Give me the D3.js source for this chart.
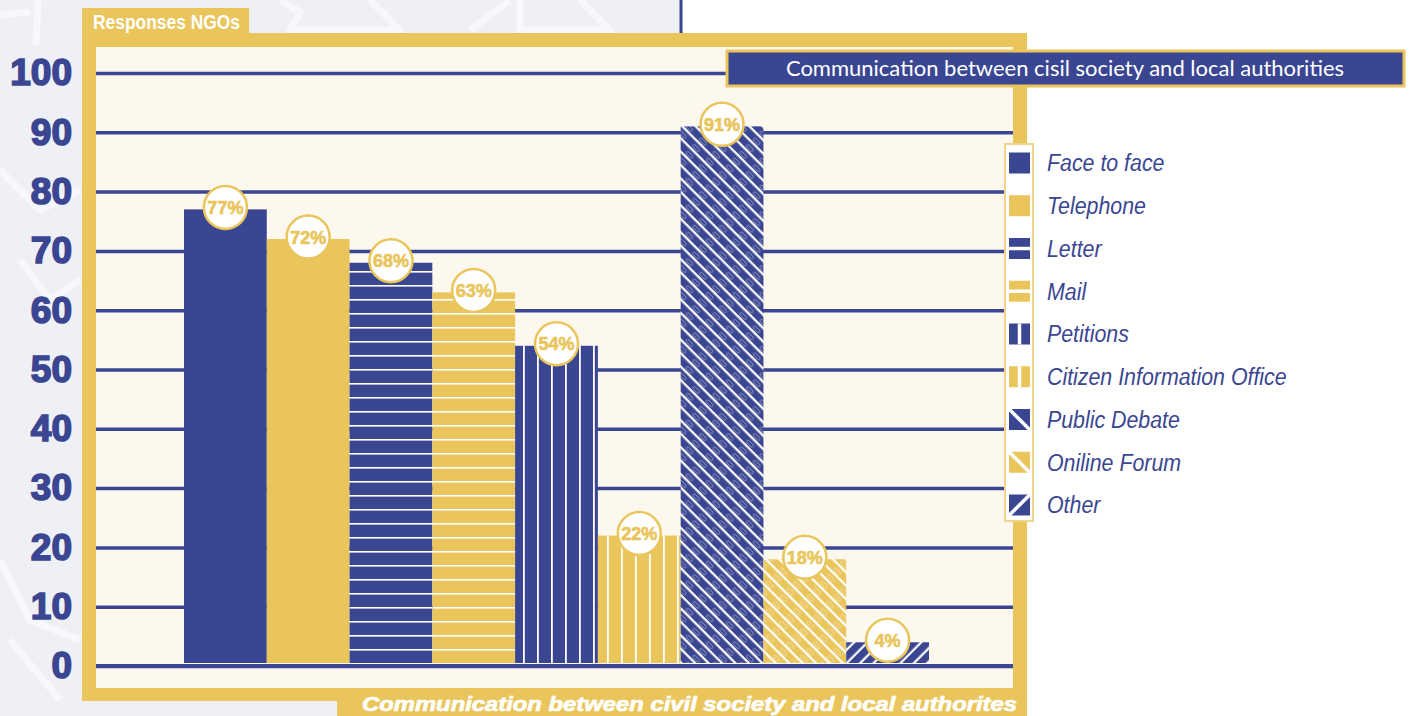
<!DOCTYPE html>
<html>
<head>
<meta charset="utf-8">
<script src="https://cdn.jsdelivr.net/npm/d3@7"></script>
<style>
  body { margin: 0; background: #fff; }
  svg { display: block; }
</style>
</head>
<body>
<script>
const categories = ["Face to face", "Telephone", "Letter", "Mail", "Petitions",
  "Citizen Information Office", "Public Debate", "Oniline Forum", "Other"];
const values = [77, 72, 68, 63, 54, 22, 91, 18, 4];
const yTicks = [0, 10, 20, 30, 40, 50, 60, 70, 80, 90, 100];

const blue = "#3a4691";
const yellow = "#e9c55b";
const cream = "#fdf8ee";

// fill colour and hatch of each category
const barStyle = {
  "Face to face": {color: blue, hatch: "none"},
  "Telephone": {color: yellow, hatch: "none"},
  "Letter": {color: blue, hatch: "horiz"},
  "Mail": {color: yellow, hatch: "horiz"},
  "Petitions": {color: blue, hatch: "vert"},
  "Citizen Information Office": {color: yellow, hatch: "vert"},
  "Public Debate": {color: blue, hatch: "back"},
  "Oniline Forum": {color: yellow, hatch: "back"},
  "Other": {color: blue, hatch: "fwd"}
};

const width = 1413, height = 716;
const svg = d3.create("svg").attr("width", width).attr("height", height);

// page background with faint decoration
svg.append("rect").attr("width", 683).attr("height", height).attr("fill", "#eef0f5");
const deco = svg.append("g").attr("fill", "none").attr("stroke", "#f7f8fb")
  .attr("stroke-width", 7).attr("stroke-linejoin", "round");
deco.append("path").attr("d", "M0,15 L30,12 M38,0 L36,45 M280,0 L300,12 L290,30 L400,30 L370,0");
deco.append("path").attr("d", "M470,30 L510,0 M520,0 L520,30 L610,30 L580,0");
deco.append("path").attr("d", "M0,170 L40,210 L80,190 M20,260 L50,300 L80,280 M0,560 L30,620 L80,640 M10,640 L60,700");
svg.append("line").attr("x1", 681).attr("x2", 681).attr("y1", 0).attr("y2", 34)
  .attr("stroke", blue).attr("stroke-width", 3);

// hatch patterns
const defs = svg.append("defs");
function makePattern(id, color, hatch) {
  const p = defs.append("pattern").attr("id", id).attr("patternUnits", "userSpaceOnUse");
  if (hatch === "horiz") {
    p.attr("width", 10).attr("height", 14);
    p.append("rect").attr("width", 10).attr("height", 14).attr("fill", color);
    p.append("rect").attr("y", 5).attr("width", 10).attr("height", 1.6).attr("fill", "#fff");
  } else if (hatch === "vert") {
    p.attr("width", 14).attr("height", 10);
    p.append("rect").attr("width", 14).attr("height", 10).attr("fill", color);
    p.append("rect").attr("x", 5).attr("width", 1.8).attr("height", 10).attr("fill", "#fff");
  } else {
    p.attr("width", 9.5).attr("height", 19)
      .attr("patternTransform", hatch === "back" ? "rotate(-45)" : "rotate(45)");
    p.append("rect").attr("width", 9.5).attr("height", 19).attr("fill", color);
    p.append("rect").attr("x", 2.5).attr("width", 2.2).attr("height", 19).attr("fill", "#fff");
    if (hatch === "back") {
      p.append("rect").attr("x", 6).attr("y", 4).attr("width", 3).attr("height", 8).attr("rx", 1)
        .attr("fill", "none").attr("stroke", "#fff").attr("stroke-width", 0.6).attr("opacity", 0.6);
    }
  }
}
categories.forEach((c, i) => {
  const s = barStyle[c];
  if (s.hatch !== "none") makePattern("pat" + i, s.color, s.hatch);
});
const fillOf = (c, i) => barStyle[c].hatch === "none" ? barStyle[c].color : `url(#pat${i})`;

// frame
svg.append("rect").attr("x", 82).attr("y", 8).attr("width", 167).attr("height", 30).attr("fill", yellow);
svg.append("text").text("Responses NGOs")
  .attr("x", 93).attr("y", 29)
  .attr("textLength", 147).attr("lengthAdjust", "spacingAndGlyphs")
  .attr("font-family", "'Liberation Sans', sans-serif")
  .attr("font-weight", "bold").attr("font-size", 20).attr("fill", "#fff");
svg.append("rect").attr("x", 82).attr("y", 33).attr("width", 945).attr("height", 668).attr("fill", yellow);
svg.append("rect").attr("x", 337).attr("y", 690).attr("width", 690).attr("height", 26).attr("fill", yellow);
svg.append("rect").attr("x", 96).attr("y", 47).attr("width", 917).attr("height", 641).attr("fill", cream);
svg.append("text").text("Communication between civil society and local authorites")
  .attr("x", 362).attr("y", 711)
  .attr("textLength", 655).attr("lengthAdjust", "spacingAndGlyphs")
  .attr("font-family", "'Liberation Sans', Arial, sans-serif")
  .attr("font-weight", "bold").attr("font-style", "italic")
  .attr("font-size", 20).attr("fill", "#fff")
  .attr("stroke", "#fff").attr("stroke-width", 0.7);

// scales
const x = d3.scaleBand().domain(categories).range([184, 929]).padding(0);
const y = d3.scaleLinear().domain([0, 100]).range([666, 73]);

// grid lines
svg.append("g")
  .attr("transform", "translate(96,0)")
  .call(d3.axisRight(y).tickValues(yTicks).tickSize(917).tickFormat(""))
  .call(g => g.select(".domain").remove())
  .call(g => g.selectAll(".tick line").attr("stroke", blue).attr("stroke-width", 3.5));

// tick labels
svg.append("g")
  .attr("transform", "translate(96,0)")
  .call(d3.axisLeft(y).tickValues(yTicks).tickSize(0).tickPadding(24))
  .call(g => g.select(".domain").remove())
  .call(g => g.selectAll(".tick text")
    .attr("fill", blue).attr("stroke", blue).attr("stroke-width", 1.6)
    .attr("font-size", 37).attr("font-weight", "bold")
    .attr("font-family", "'Liberation Sans', Arial, sans-serif"));

// bars
svg.append("g").selectAll("rect").data(categories).join("rect")
  .attr("x", d => x(d))
  .attr("width", x.bandwidth())
  .attr("y", (d, i) => y(values[i]))
  .attr("height", (d, i) => y(0) - 3 - y(values[i]))
  .attr("fill", (d, i) => fillOf(d, i));

// baseline
svg.append("line").attr("x1", 96).attr("x2", 1013).attr("y1", y(0)).attr("y2", y(0))
  .attr("stroke", blue).attr("stroke-width", 4);

// value bubbles
const bubbles = svg.append("g").selectAll("g").data(categories).join("g")
  .attr("transform", (d, i) => `translate(${x(d) + x.bandwidth() / 2},${y(values[i]) - 2})`);
bubbles.append("circle").attr("r", 21.5).attr("fill", "#fff")
  .attr("stroke", yellow).attr("stroke-width", 2.5);
bubbles.append("text").text((d, i) => values[i] + "%")
  .attr("text-anchor", "middle").attr("dy", "0.36em")
  .attr("font-family", "'Liberation Sans', Arial, sans-serif")
  .attr("font-weight", "bold").attr("font-size", 18).attr("fill", yellow)
  .attr("stroke", yellow).attr("stroke-width", 0.6);

// title box
svg.append("rect").attr("x", 727).attr("y", 51).attr("width", 677).attr("height", 35)
  .attr("fill", blue).attr("stroke", yellow).attr("stroke-width", 3);
svg.append("text").text("Communication between cisil society and local authorities")
  .attr("x", 1065).attr("y", 76).attr("text-anchor", "middle")
  .attr("font-family", "Lato, sans-serif").attr("font-size", 22).attr("fill", "#fff");

// legend
const legY = d3.scalePoint().domain(categories).range([163, 505]);
svg.append("rect").attr("x", 1005).attr("y", 144).attr("width", 28).attr("height", 377)
  .attr("fill", "#fff").attr("stroke", "#efd48a").attr("stroke-width", 2);
const items = svg.append("g").selectAll("g").data(categories).join("g")
  .attr("transform", d => `translate(1009,${legY(d)})`);
items.append("rect").attr("y", -10.5).attr("width", 21).attr("height", 21)
  .attr("fill", d => barStyle[d].color);
items.filter(d => barStyle[d].hatch !== "none").append("line")
  .attr("x1", d => ({horiz: 0, vert: 10.5, back: 0, fwd: 0})[barStyle[d].hatch])
  .attr("x2", d => ({horiz: 21, vert: 10.5, back: 21, fwd: 21})[barStyle[d].hatch])
  .attr("y1", d => ({horiz: 0, vert: -10.5, back: -10.5, fwd: 10.5})[barStyle[d].hatch])
  .attr("y2", d => ({horiz: 0, vert: 10.5, back: 10.5, fwd: -10.5})[barStyle[d].hatch])
  .attr("stroke", "#fff").attr("stroke-width", 3.5);
items.append("text").text(d => d)
  .attr("transform", "translate(38,0) scale(0.89,1)")
  .attr("dy", "0.35em")
  .attr("font-family", "'Liberation Sans', sans-serif")
  .attr("font-style", "italic").attr("font-size", 24).attr("fill", blue);

document.body.append(svg.node());
</script>
</body>
</html>
